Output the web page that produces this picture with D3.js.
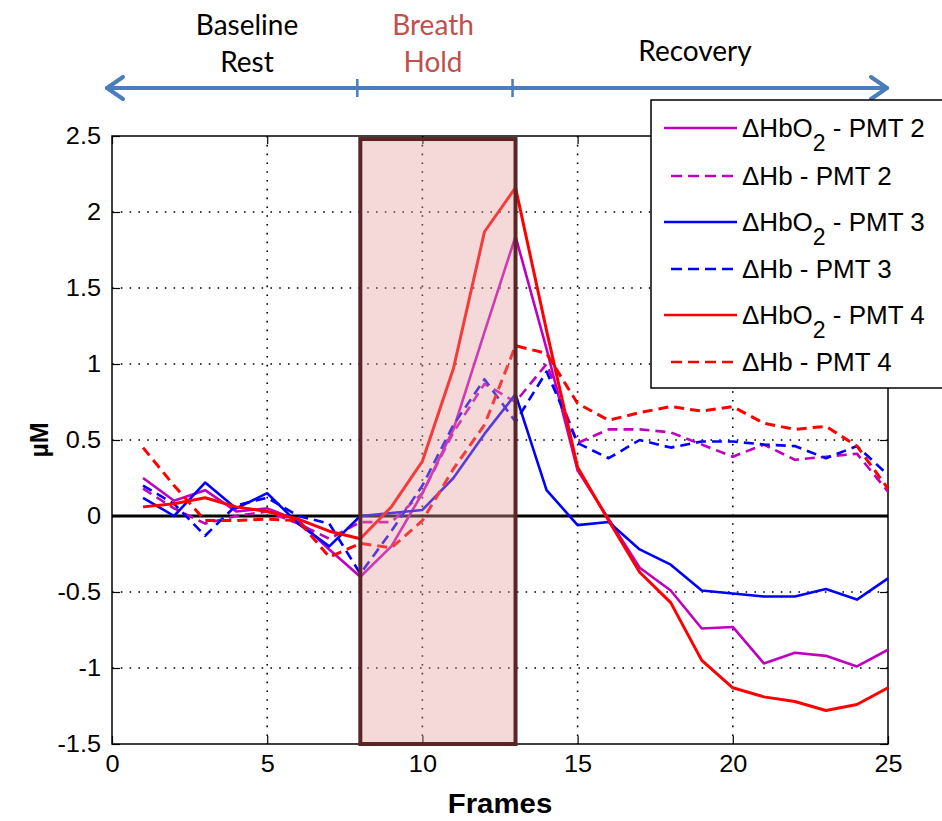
<!DOCTYPE html>
<html><head><meta charset="utf-8">
<script src="https://cdn.jsdelivr.net/npm/d3@7"></script>
<style>
html,body{margin:0;padding:0;background:#fff;}
svg{display:block;}
</style></head>
<body>
<svg id="chart" width="942" height="821"></svg>
<script>
// ---------- data ----------
const frames = [1,2,3,4,5,6,7,8,9,10,11,12,13,14,15,16,17,18,19,20,21,22,23,24,25];
const hbo2_pmt2 = [0.25,0.10,0.17,0.03,0.05,-0.03,-0.22,-0.40,-0.20,0.15,0.57,1.21,1.84,1.10,0.30,-0.02,-0.34,-0.49,-0.74,-0.73,-0.97,-0.90,-0.92,-0.99,-0.88];
const hb_pmt2   = [0.18,0.05,-0.05,0.00,0.03,-0.05,-0.15,-0.04,-0.04,0.15,0.55,0.87,0.75,1.00,0.48,0.57,0.57,0.55,0.47,0.39,0.47,0.37,0.39,0.41,0.16];
const hbo2_pmt3 = [0.12,0.00,0.22,0.05,0.15,-0.05,-0.20,0.00,0.02,0.04,0.25,0.54,0.80,0.17,-0.06,-0.04,-0.22,-0.32,-0.49,-0.51,-0.53,-0.53,-0.48,-0.55,-0.41];
const hb_pmt3   = [0.20,0.08,-0.13,0.07,0.12,0.00,-0.05,-0.38,-0.10,0.20,0.60,0.90,0.62,0.95,0.48,0.38,0.50,0.45,0.49,0.49,0.47,0.46,0.38,0.46,0.27];
const hbo2_pmt4 = [0.06,0.08,0.12,0.06,0.03,-0.02,-0.10,-0.15,0.06,0.36,0.97,1.87,2.16,1.22,0.32,-0.03,-0.37,-0.57,-0.95,-1.13,-1.19,-1.22,-1.28,-1.24,-1.13];
const hb_pmt4   = [0.45,0.20,-0.03,-0.03,-0.02,-0.03,-0.27,-0.18,-0.21,-0.03,0.31,0.60,1.12,1.07,0.74,0.63,0.68,0.72,0.69,0.72,0.61,0.57,0.59,0.46,0.18];

const seriesNames = ["HbO2 - PMT 2","Hb - PMT 2","HbO2 - PMT 3","Hb - PMT 3","HbO2 - PMT 4","Hb - PMT 4"];
const seriesValues = [hbo2_pmt2, hb_pmt2, hbo2_pmt3, hb_pmt3, hbo2_pmt4, hb_pmt4];
const seriesColors = ["#bf00bf","#bf00bf","#0000ff","#0000ff","#ff0000","#ff0000"];
const seriesDashed = [false,true,false,true,false,true];

const xTicks = [0,5,10,15,20,25];
const yTicks = [-1.5,-1,-0.5,0,0.5,1,1.5,2,2.5];
const yTickLabels = ["-1.5","-1","-0.5","0","0.5","1","1.5","2","2.5"];
const xDomain = [0,25];
const yDomain = [-1.5,2.5];
const holdStart = 8, holdEnd = 13, holdTop = 2.48;
const phases = [
  {lines:["Baseline","Rest"], from:0, to:8, color:"#000"},
  {lines:["Breath","Hold"], from:8, to:13, color:"#c0504d"},
  {lines:["Recovery"], from:13, to:25, color:"#000"}
];

// ---------- layout ----------
const svg = d3.select("#chart");
const L = 112, R = 888, T = 136, B = 744;
const x = d3.scaleLinear().domain(xDomain).range([L, R]);
const y = d3.scaleLinear().domain(yDomain).range([B, T]);
const font = "'Liberation Sans', Arial, sans-serif";

// grid
const grid = svg.append("g");
xTicks.filter(t => t > xDomain[0] && t < xDomain[1]).forEach(t => {
  grid.append("line").attr("x1", x(t)).attr("x2", x(t)).attr("y1", T).attr("y2", B)
    .attr("stroke", "#000").attr("stroke-width", 1.6).attr("stroke-dasharray", "1.6,7.2");
});
yTicks.filter(t => t > yDomain[0] && t < yDomain[1]).forEach(t => {
  grid.append("line").attr("x1", L).attr("x2", R).attr("y1", y(t)).attr("y2", y(t))
    .attr("stroke", "#000").attr("stroke-width", 1.6).attr("stroke-dasharray", "1.6,7.2");
});

// axes (ticks inward on all four sides)
const axB = svg.append("g").attr("transform", `translate(0,${B})`)
  .call(d3.axisBottom(x).tickValues(xTicks).tickSize(-8).tickPadding(12).tickFormat(d3.format("d")));
const axT = svg.append("g").attr("transform", `translate(0,${T})`)
  .call(d3.axisTop(x).tickValues(xTicks).tickSize(-8).tickFormat(""));
const axL = svg.append("g").attr("transform", `translate(${L},0)`)
  .call(d3.axisLeft(y).tickValues(yTicks).tickSize(-8).tickPadding(11).tickFormat((d,i) => yTickLabels[i]));
const axR = svg.append("g").attr("transform", `translate(${R},0)`)
  .call(d3.axisRight(y).tickValues(yTicks).tickSize(-8).tickFormat(""));
[axB, axT, axL, axR].forEach(a => {
  a.select(".domain").remove();
  a.selectAll(".tick line").attr("stroke", "#000").attr("stroke-width", 1.2);
  a.selectAll("text").attr("font-family", font).attr("font-size", 23).attr("fill", "#000");
});
axB.selectAll("text").attr("dy", "0.71em");
// slight horizontal stretch like the reference rendering
const sx = 1.1;
axL.selectAll(".tick text").each(function() {
  const t = d3.select(this);
  t.attr("x", -11 / sx).attr("transform", `scale(${sx},1)`);
});
axB.selectAll(".tick text").attr("transform", `scale(${sx},1)`);

// box
svg.append("rect").attr("x", L).attr("y", T).attr("width", R - L).attr("height", B - T)
  .attr("fill", "none").attr("stroke", "#000").attr("stroke-width", 1.5);

// zero line
svg.append("line").attr("x1", L).attr("x2", R).attr("y1", y(0)).attr("y2", y(0))
  .attr("stroke", "#000").attr("stroke-width", 3);

// series
const line = d3.line().x((d, i) => x(frames[i])).y(d => y(d));
seriesValues.forEach((vals, k) => {
  svg.append("path").datum(vals).attr("d", line)
    .attr("fill", "none").attr("stroke", seriesColors[k])
    .attr("stroke-width", k >= 4 ? 3 : 2.6)
    .attr("stroke-linejoin", "round")
    .attr("stroke-dasharray", seriesDashed[k] ? "10,6" : null);
});

// breath hold overlay
svg.append("rect")
  .attr("x", x(holdStart)).attr("y", y(holdTop))
  .attr("width", x(holdEnd) - x(holdStart)).attr("height", y(yDomain[0]) - y(holdTop))
  .attr("fill", "rgb(230,154,154)").attr("fill-opacity", 0.39)
  .attr("stroke", "#5a2525").attr("stroke-width", 4);

// axis titles
svg.append("text").attr("transform", `translate(${(L + R) / 2},813) scale(1.05,1)`).attr("text-anchor", "middle")
  .attr("font-family", font).attr("font-size", 28).attr("font-weight", "bold").text("Frames");
svg.append("text").attr("transform", `translate(48,${(T + B) / 2}) rotate(-90)`)
  .attr("text-anchor", "middle").attr("font-family", font).attr("font-size", 25)
  .attr("font-weight", "bold").text("\u00B5M");

// phase arrow
const arrowY = 88, arrowColor = "#4a7ebb";
const ag = svg.append("g").attr("stroke", arrowColor).attr("stroke-width", 4).attr("fill", "none")
  .attr("stroke-linecap", "round").attr("stroke-linejoin", "round");
const xl = x(0) - 5, xr = x(25) - 1;
ag.append("line").attr("x1", xl).attr("x2", xr).attr("y1", arrowY).attr("y2", arrowY);
ag.append("polyline").attr("points", `${xl + 16},${arrowY - 11} ${xl},${arrowY} ${xl + 16},${arrowY + 11}`);
ag.append("polyline").attr("points", `${xr - 16},${arrowY - 11} ${xr},${arrowY} ${xr - 16},${arrowY + 11}`);
[holdStart, holdEnd].forEach(t => {
  ag.append("line").attr("x1", x(t) - 3).attr("x2", x(t) - 3).attr("y1", arrowY - 9).attr("y2", arrowY + 9)
    .attr("stroke-width", 2.5).attr("stroke-linecap", "butt");
});
const phaseFont = "Lato, 'Open Sans', sans-serif";
const phaseCx = [247, 433, 695];
phases.forEach((p, i) => {
  const ys = p.lines.length === 2 ? [35, 72] : [61];
  p.lines.forEach((t, j) => {
    svg.append("text").attr("x", phaseCx[i]).attr("y", ys[j]).attr("text-anchor", "middle")
      .attr("font-family", phaseFont).attr("font-size", 28).attr("fill", p.color).text(t);
  });
});

// legend
const lg = svg.append("g");
lg.append("rect").attr("x", 651).attr("y", 100).attr("width", 300).attr("height", 288)
  .attr("fill", "#fff").attr("stroke", "#000").attr("stroke-width", 1.5);
const rowY = [128, 176, 222, 269, 315, 362];
seriesNames.forEach((name, k) => {
  const yy = rowY[k];
  lg.append("line").attr("x1", seriesDashed[k] ? 671 : 664).attr("x2", 737)
    .attr("y1", yy).attr("y2", yy).attr("stroke", seriesColors[k]).attr("stroke-width", 2.6)
    .attr("stroke-dasharray", seriesDashed[k] ? "11,6" : null);
  const t = lg.append("text").attr("x", 742).attr("y", yy + 9)
    .attr("font-family", font).attr("font-size", 26).attr("fill", "#000");
  const isO2 = name.startsWith("HbO2");
  if (isO2) {
    t.append("tspan").text("\u0394HbO");
    t.append("tspan").attr("dy", 14).attr("font-size", 23).text("2");
    t.append("tspan").attr("dy", -14).text(" - " + name.split(" - ")[1]);
  } else {
    t.append("tspan").text("\u0394" + name);
  }
});
</script>
</body></html>
